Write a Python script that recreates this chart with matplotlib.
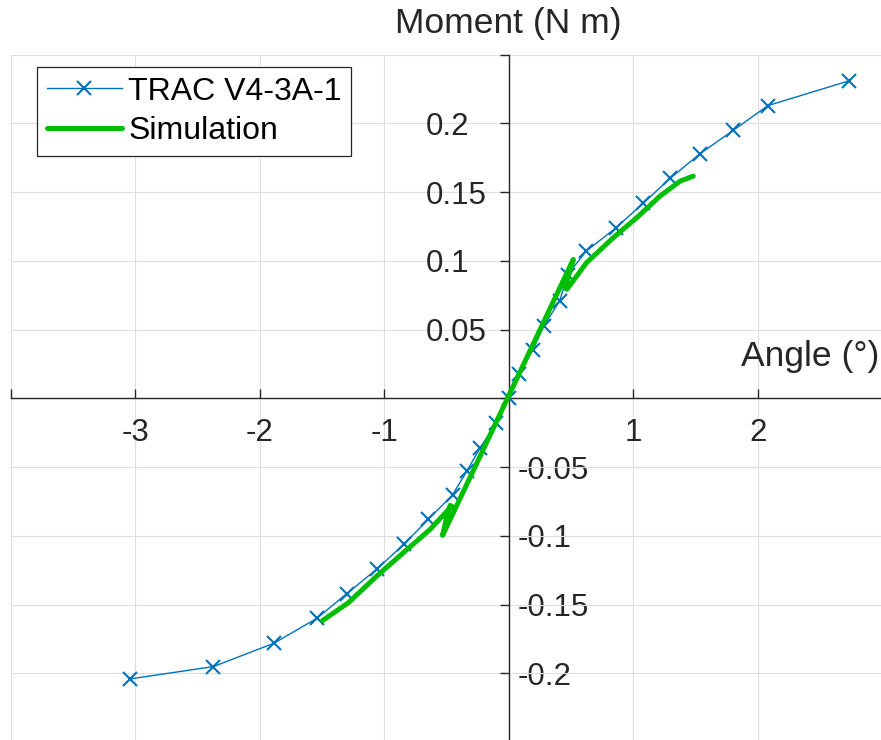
import matplotlib
matplotlib.use("Agg")
import matplotlib.pyplot as plt
from matplotlib.transforms import blended_transform_factory

plt.rcParams["font.family"] = ["Liberation Sans", "DejaVu Sans"]
plt.rcParams["axes.unicode_minus"] = False

# Measured moment-angle response (test rig)
angle_exp = [-3.043, -2.373, -1.886, -1.543, -1.302, -1.059, -0.842, -0.647,
             -0.451, -0.338, -0.231, -0.103, 0.0, 0.084, 0.192, 0.283,
             0.409, 0.473, 0.620, 0.859, 1.080, 1.295, 1.536, 1.803,
             2.082, 2.733]
moment_exp = [-0.204, -0.195, -0.178, -0.160, -0.142, -0.124, -0.106, -0.088,
              -0.070, -0.053, -0.036, -0.018, 0.0, 0.018, 0.035, 0.053,
              0.071, 0.090, 0.107, 0.124, 0.142, 0.160, 0.178, 0.195,
              0.213, 0.231]

# Simulated response (single continuous path)
angle_sim = [-1.496, -1.289, -1.061, -0.847, -0.633, -0.459, -0.472, -0.495,
             -0.532, 0.518, 0.470, 0.452, 0.468, 0.624, 0.839, 1.027,
             1.214, 1.375, 1.482]
moment_sim = [-0.1615, -0.1486, -0.1292, -0.1122, -0.0953, -0.0783, -0.0778,
              -0.0850, -0.0996, 0.1011, 0.0860, 0.0800, 0.0795, 0.0987,
              0.1169, 0.1314, 0.1471, 0.1580, 0.1617]

x_ticks = [-4, -3, -2, -1, 0, 1, 2, 3]
x_tick_labels = ["", "-3", "-2", "-1", "", "1", "2", ""]
y_ticks = [-0.25, -0.2, -0.15, -0.1, -0.05, 0.0, 0.05, 0.1, 0.15, 0.2, 0.25]
y_pos_labels = ["", "", "", "", "", "", "0.05", "0.1", "0.15", "0.2", ""]
y_neg_labels = ["", "-0.2", "-0.15", "-0.1", "-0.05", "", "", "", "", "", ""]

TEXT = "#262626"
BLUE = "#0072BD"
GREEN = "#00BF00"
TICK_FS = 22.5
LABEL_FS = 25.5

fig = plt.figure(figsize=(8.81, 7.40), dpi=100)
ax = fig.add_axes([10.8 / 881, -2.2 / 740, 871.5 / 881, 687.5 / 740])
ax.set_xlim(-4, 3)
ax.set_ylim(-0.25, 0.25)

ax.plot(angle_exp, moment_exp, color=BLUE, lw=1.0, marker="x", ms=9.5,
        mew=1.5, label="TRAC V4-3A-1", zorder=3)
ax.plot(angle_sim, moment_sim, color=GREEN, lw=3.6, solid_capstyle="round",
        solid_joinstyle="round", label="Simulation", zorder=4)

# Axes crossing at the origin
for s in ["top", "right"]:
    ax.spines[s].set_visible(False)
for s in ["left", "bottom"]:
    ax.spines[s].set_position(("data", 0))
    ax.spines[s].set_color(TEXT)
    ax.spines[s].set_linewidth(1.0)
    ax.spines[s].set_zorder(2.5)

ax.set_xticks(x_ticks, x_tick_labels)
ax.set_yticks(y_ticks, y_pos_labels)
ax.tick_params(axis="x", direction="in", length=6.5, width=1.0, color=TEXT,
               labelcolor=TEXT, labelsize=TICK_FS, pad=14.4)
ax.tick_params(axis="y", direction="out", length=6.5, width=1.0, color=TEXT,
               labelcolor=TEXT, labelsize=TICK_FS, pad=53.3)
for lbl in ax.get_yticklabels():
    lbl.set_horizontalalignment("left")

ax.grid(True, color="#dedede", lw=0.8)
ax.set_axisbelow(True)

# Negative moment labels sit to the right of the vertical axis
sec = ax.secondary_yaxis(4 / 7)
sec.set_yticks(y_ticks, y_neg_labels)
sec.tick_params(axis="y", length=0, pad=6.6, labelsize=TICK_FS,
                labelcolor=TEXT)
for sp in sec.spines.values():
    sp.set_visible(False)

ax.set_ylabel("Moment (N m)", rotation=0, fontsize=LABEL_FS, color=TEXT,
              ha="center", va="baseline")
ax.yaxis.set_label_coords(0, 1.0 + 21.7 / 687.5,
                          transform=blended_transform_factory(ax.transData, ax.transAxes))
ax.set_xlabel("Angle (°)", fontsize=LABEL_FS, color=TEXT, ha="right", va="baseline")
ax.xaxis.set_label_coords(0.9962, 0.0233,
                          transform=blended_transform_factory(ax.transAxes, ax.transData))

leg = ax.legend(loc="upper left",
                bbox_to_anchor=((37 - 10.8) / 871.5, 1 - (67 - 54.7) / 687.5),
                borderaxespad=0, fontsize=23, frameon=True, fancybox=False,
                edgecolor=TEXT, framealpha=1, borderpad=0.3, labelspacing=0.3,
                handlelength=2.35, handletextpad=0.2)
leg.get_frame().set_linewidth(0.9)
for t in leg.get_texts():
    t.set_color("black")

fig.savefig("out.png", dpi=100)
